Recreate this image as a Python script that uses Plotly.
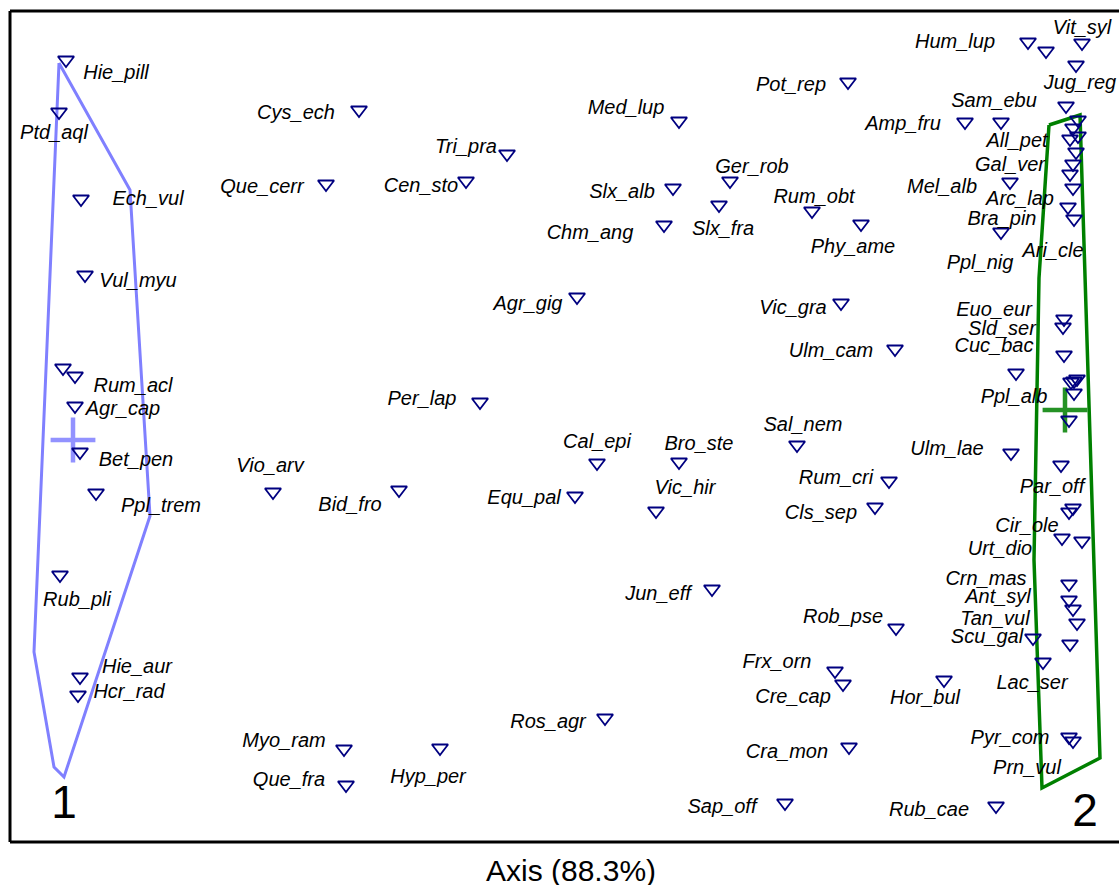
import plotly.graph_objects as go

# Species scores on the ordination plane (triangles)
species_x = [
    66, 59, 81, 85, 63, 75, 75, 80, 96, 60, 80, 78,
    359, 326, 273, 399, 344, 346, 440, 480, 507, 466, 577,
    679, 673, 730, 719, 664, 597, 679, 575, 656, 712, 605, 785,
    848, 812, 861, 841, 895, 797, 889, 875, 896, 835, 843, 944, 849, 996,
    965, 1001, 1010, 1001, 1016, 1011,
    1028, 1046, 1082, 1076, 1066, 1078, 1073, 1078, 1070, 1076, 1073, 1070,
    1073, 1068, 1074, 1064, 1063, 1064, 1071, 1074, 1077, 1074, 1069, 1061,
    1069, 1073, 1062, 1082, 1069, 1069, 1073, 1077, 1070, 1033, 1043, 1069, 1073,
]
species_y = [
    60, 112, 199, 275, 368, 376, 406, 452, 493, 575, 677, 695,
    110, 184, 492, 490, 749, 785, 748, 402, 154, 181, 297,
    121, 188, 181, 205, 225, 463, 462, 496, 511, 589, 718, 803,
    82, 211, 224, 303, 349, 445, 481, 507, 628, 671, 684, 680, 747, 806,
    122, 122, 182, 232, 373, 453,
    42, 51, 43, 65, 106, 120, 128, 136, 139, 152, 164, 174,
    188, 207, 219, 319, 327, 355, 382, 381, 379, 393, 420, 465,
    512, 508, 538, 541, 584, 600, 609, 623, 644, 638, 662, 737, 741,
]

# Species name labels and where each one is written
label_text = [
    "Hie_pill", "Ptd_aql", "Ech_vul", "Vul_myu", "Rum_acl", "Agr_cap", "Bet_pen",
    "Ppl_trem", "Rub_pli", "Hie_aur", "Hcr_rad", "Cys_ech", "Que_cerr", "Vio_arv",
    "Bid_fro", "Myo_ram", "Que_fra", "Hyp_per", "Per_lap", "Tri_pra", "Cen_sto",
    "Agr_gig", "Med_lup", "Slx_alb", "Ger_rob", "Slx_fra", "Chm_ang", "Cal_epi",
    "Bro_ste", "Equ_pal", "Vic_hir", "Jun_eff", "Ros_agr", "Sap_off", "Pot_rep",
    "Rum_obt", "Phy_ame", "Vic_gra", "Ulm_cam", "Sal_nem", "Rum_cri", "Cls_sep",
    "Rob_pse", "Frx_orn", "Cre_cap", "Hor_bul", "Cra_mon", "Rub_cae", "Amp_fru",
    "Mel_alb", "Bra_pin", "Ulm_lae", "Hum_lup", "Vit_syl", "Jug_reg", "Sam_ebu",
    "All_pet", "Gal_ver", "Arc_lap", "Ppl_nig", "Ari_cle", "Euo_eur", "Sld_ser",
    "Cuc_bac", "Ppl_alb", "Par_off", "Cir_ole", "Urt_dio", "Crn_mas", "Ant_syl",
    "Tan_vul", "Scu_gal", "Lac_ser", "Pyr_com", "Prn_vul",
]
label_x = [
    116, 54, 148, 138, 133, 123, 136,
    161, 77, 137, 129, 296, 262, 270,
    350, 284, 289, 428, 422, 466, 421,
    528, 626, 622, 752, 723, 590, 597,
    699, 524, 685, 658, 548, 722, 791,
    814, 853, 793, 831, 803, 836, 821,
    843, 777, 793, 925, 787, 929, 903,
    942, 1002, 947, 955, 1082, 1080, 994,
    1017, 1010, 1020, 980, 1053, 994, 1002,
    994, 1014, 1052, 1027, 1000, 986, 998,
    995, 987, 1032, 1010, 1027,
]
label_y = [
    74, 134, 200, 282, 387, 410, 461,
    507, 601, 668, 693, 114, 188, 467,
    506, 742, 781, 778, 400, 148, 187,
    305, 109, 193, 168, 230, 234, 443,
    445, 499, 489, 595, 723, 808, 86,
    198, 248, 309, 352, 426, 479, 514,
    618, 663, 698, 699, 753, 811, 125,
    188, 220, 450, 43, 29, 84, 102,
    142, 166, 200, 264, 252, 311, 330,
    347, 398, 488, 527, 550, 580, 598,
    620, 638, 684, 739, 769,
]

# Convex hulls of the two groups
hull1_x = [59, 130, 150, 64, 54, 34, 59]
hull1_y = [63, 190, 516, 777, 767, 652, 63]
hull2_x = [1049, 1080, 1100, 1042, 1034, 1039, 1049]
hull2_y = [125, 115, 758, 788, 560, 278, 125]

# Group centroids and group numbers
centroid_x = [73, 1065]
centroid_y = [440, 410]
group_names = ["1", "2"]
group_x = [64, 1085]
group_y = [806, 814]
group_colors = ["#8080ff", "#008000"]

fig = go.Figure()

fig.add_trace(go.Scatter(
    x=hull1_x, y=hull1_y, mode="lines",
    line=dict(color=group_colors[0], width=3), hoverinfo="skip",
))
fig.add_trace(go.Scatter(
    x=hull2_x, y=hull2_y, mode="lines",
    line=dict(color=group_colors[1], width=3.5), hoverinfo="skip",
))

for i in range(2):
    fig.add_trace(go.Scatter(
        x=[centroid_x[i]], y=[centroid_y[i]], mode="markers",
        marker=dict(symbol="cross-thin", size=32,
                    line=dict(color=group_colors[i], width=4.5)),
        opacity=0.85, hoverinfo="skip",
    ))

fig.add_trace(go.Scatter(
    x=species_x, y=species_y, mode="markers",
    marker=dict(symbol="triangle-down-open", size=14, color="#000080",
                line=dict(color="#000080", width=1.8)),
))

fig.add_trace(go.Scatter(
    x=label_x, y=label_y, mode="text", text=label_text,
    textposition="middle center",
    textfont=dict(family="Liberation Sans, Arial, sans-serif", size=20,
                  color="black", style="italic"),
    hoverinfo="skip",
))

fig.add_trace(go.Scatter(
    x=group_x, y=group_y, mode="text", text=group_names,
    textposition="middle center",
    textfont=dict(family="Liberation Sans, Arial, sans-serif", size=46,
                  color="black"),
    hoverinfo="skip",
))

# Frame on the left, top and bottom of the plotting area
frame = dict(color="black", width=3)
fig.add_shape(type="line", xref="paper", yref="paper", x0=0, x1=0, y0=0, y1=1, line=frame)
fig.add_shape(type="line", xref="paper", yref="paper", x0=0, x1=1, y0=1, y1=1, line=frame)
fig.add_shape(type="line", xref="paper", yref="paper", x0=0, x1=1, y0=0, y1=0, line=frame)

fig.add_annotation(
    text="Axis (88.3%)", xref="paper", yref="paper",
    x=0.506, y=-0.034, xanchor="center", yanchor="middle", showarrow=False,
    font=dict(family="Liberation Sans, Arial, sans-serif", size=30, color="black"),
)

fig.update_xaxes(range=[10, 1119], visible=False, showgrid=False, zeroline=False)
fig.update_yaxes(range=[842, 11], visible=False, showgrid=False, zeroline=False)

fig.update_layout(
    width=1119, height=885,
    margin=dict(l=10, r=0, t=11, b=43),
    paper_bgcolor="white", plot_bgcolor="white",
    showlegend=False,
)

fig.write_html("out.html")
